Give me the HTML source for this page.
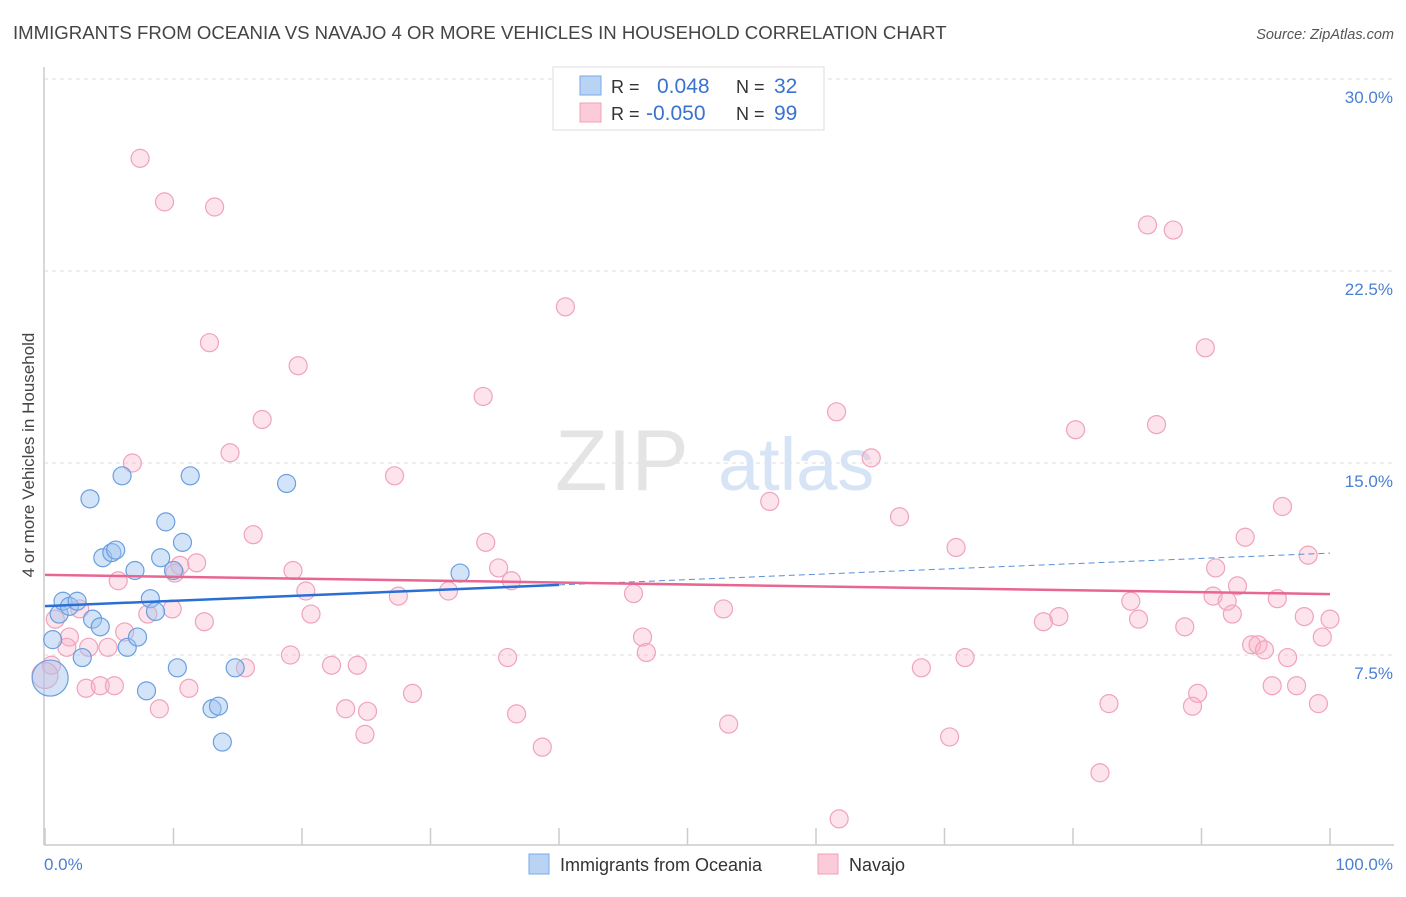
<!DOCTYPE html>
<html><head><meta charset="utf-8"><style>
body{margin:0;background:#fff;font-family:"Liberation Sans",sans-serif}
svg text{font-family:"Liberation Sans",sans-serif}
</style></head><body>
<svg id="chart" width="1406" height="892" xmlns="http://www.w3.org/2000/svg">
<text x="13" y="39" font-size="18.6" fill="#444">IMMIGRANTS FROM OCEANIA VS NAVAJO 4 OR MORE VEHICLES IN HOUSEHOLD CORRELATION CHART</text>
<text x="1394" y="39" font-size="14.5" fill="#555" text-anchor="end" font-style="italic">Source: ZipAtlas.com</text>
<g id="grid"></g>
<g>
<text x="555" y="490" font-size="86" fill="#e4e4e4" font-family="Liberation Serif,serif">ZIP</text>
<text x="718" y="490" font-size="74" fill="#d6e4f5">atlas</text>
</g>
<line x1="44" y1="67" x2="44" y2="845" stroke="#ccc" stroke-width="1.5"/>
<line x1="44" y1="845" x2="1394" y2="845" stroke="#ccc" stroke-width="1.5"/>
<g id="ticks"></g>
<g id="pts"></g>
<g id="trends"></g>
<text transform="translate(34,455) rotate(-90)" font-size="17" fill="#444" text-anchor="middle">4 or more Vehicles in Household</text>
<text x="44" y="870" font-size="17" fill="#4a7fd4">0.0%</text>
<text x="1393" y="870" font-size="17" fill="#4a7fd4" text-anchor="end">100.0%</text>
<g>
<rect x="553" y="67" width="271" height="63" fill="#fff" stroke="#ddd"/>
<rect x="580" y="76" width="21" height="19" fill="#b9d3f5" stroke="#7aa8e6"/>
<rect x="580" y="103" width="21" height="19" fill="#fccbd9" stroke="#f0a0b8"/>
<text x="611" y="93" font-size="18" fill="#333">R = </text>
<text x="657" y="93" font-size="21" fill="#3a72cf">0.048</text>
<text x="736" y="93" font-size="18" fill="#333">N = </text>
<text x="774" y="93" font-size="21" fill="#3a72cf">32</text>
<text x="611" y="120" font-size="18" fill="#333">R = </text>
<text x="646" y="120" font-size="21" fill="#3a72cf">-0.050</text>
<text x="736" y="120" font-size="18" fill="#333">N = </text>
<text x="774" y="120" font-size="21" fill="#3a72cf">99</text>
</g>
<g>
<rect x="529" y="854" width="20" height="20" fill="#b9d3f5" stroke="#7aa8e6"/>
<text x="560" y="871" font-size="18" fill="#333">Immigrants from Oceania</text>
<rect x="818" y="854" width="20" height="20" fill="#fccbd9" stroke="#f0a0b8"/>
<text x="849" y="871" font-size="18" fill="#333">Navajo</text>
</g>
</svg>
<script>
const yTicks=[7.5,15,22.5,30];
const yTickLabels=["7.5%","15.0%","22.5%","30.0%"];
const xTicks=[0,10,20,30,40,50,60,70,80,90,100];
const blueX=[0.4,0.6,1.1,1.4,1.9,2.5,3.5,3.7,4.3,4.5,5.2,5.5,6.0,6.4,7.0,7.2,7.9,8.2,8.6,9.0,9.4,10.0,10.3,10.7,11.3,13.0,13.5,13.8,14.8,18.8,32.3,2.9];
const blueY=[6.6,8.1,9.1,9.6,9.4,9.6,13.6,8.9,8.6,11.3,11.5,11.6,14.5,7.8,10.8,8.2,6.1,9.7,9.2,11.3,12.7,10.8,7.0,11.9,14.5,5.4,5.5,4.1,7.0,14.2,10.7,7.4];
const pinkX=[7.4,9.3,13.2,12.8,19.7,16.9,14.4,6.8,27.2,16.2,34.1,40.5,85.8,87.8,90.3,61.6,80.2,86.5,64.3,56.4,66.5,70.9,96.3,93.4,98.3,34.3,35.3,36.3,10.5,11.8,10.1,5.7,19.3,20.3,27.5,31.4,45.8,91.1,92.8,90.9,92.0,95.9,84.5,98.0,100,85.1,78.9,77.7,92.4,88.7,52.8,20.7,9.9,8.0,2.7,0.8,1.9,6.2,3.4,4.9,1.7,0.5,0,46.5,46.8,93.9,94.4,94.9,96.7,99.4,12.4,19.1,22.3,24.3,15.6,36.0,68.2,71.6,3.2,4.3,5.4,11.2,8.9,23.4,25.1,28.6,36.7,53.2,70.4,24.9,38.7,82.8,89.7,89.3,95.5,97.4,99.1,82.1,61.8];
const pinkY=[26.9,25.2,25.0,19.7,18.8,16.7,15.4,15.0,14.5,12.2,17.6,21.1,24.3,24.1,19.5,17.0,16.3,16.5,15.2,13.5,12.9,11.7,13.3,12.1,11.4,11.9,10.9,10.4,11.0,11.1,10.7,10.4,10.8,10.0,9.8,10.0,9.9,10.9,10.2,9.8,9.6,9.7,9.6,9.0,8.9,8.9,9.0,8.8,9.1,8.6,9.3,9.1,9.3,9.1,9.3,8.9,8.2,8.4,7.8,7.8,7.8,7.1,6.7,8.2,7.6,7.9,7.9,7.7,7.4,8.2,8.8,7.5,7.1,7.1,7.0,7.4,7.0,7.4,6.2,6.3,6.3,6.2,5.4,5.4,5.3,6.0,5.2,4.8,4.3,4.4,3.9,5.6,6.0,5.5,6.3,6.3,5.6,2.9,1.1];
const blueTrend=[9.41,11.48];
const pinkTrend=[10.63,9.88];
const blueSolidEnd=40;
const NS="http://www.w3.org/2000/svg";
const sx=v=>45+v*12.85, sy=v=>847-v*25.6;
function mk(t,a,p){const e=document.createElementNS(NS,t);for(const k in a)e.setAttribute(k,a[k]);p.appendChild(e);return e;}
const grid=document.getElementById('grid');
yTicks.forEach((t,i)=>{
 const l=mk('line',{x1:44,x2:1394,y1:sy(t),y2:sy(t),stroke:'#ddd','stroke-dasharray':'4,4'},grid);
 
 
 const tx=mk('text',{x:1393,y:sy(t)+24,'font-size':17,fill:'#4a7fd4','text-anchor':'end'},grid);
 tx.textContent=yTickLabels[i];
 
 
});
const ticks=document.getElementById('ticks');
xTicks.forEach(t=>{
 const l=mk('line',{x1:sx(t),x2:sx(t),y1:828,y2:845,stroke:'#ccc','stroke-width':1.5},ticks);
 
 
});
const pts=document.getElementById('pts');
pinkX.forEach((x,i)=>{
 const c=mk('circle',{cx:sx(x),cy:sy(pinkY[i]),r:(x===0?13:9),fill:'rgba(248,175,198,0.35)',stroke:'#f0a3bb','stroke-width':1.2},pts);
 
 
});
blueX.forEach((x,i)=>{
 const c=mk('circle',{cx:sx(x),cy:sy(blueY[i]),r:(i===0?18:9),fill:'rgba(160,196,240,0.45)',stroke:'#6a9fe0','stroke-width':1.2},pts);
 
 
});
const tr=document.getElementById('trends');
const by=x=>blueTrend[0]+(blueTrend[1]-blueTrend[0])*x/100;
let l1=mk('line',{x1:sx(0),y1:sy(by(0)),x2:sx(blueSolidEnd),y2:sy(by(blueSolidEnd)),stroke:'#2a6fd6','stroke-width':2.5},tr);


let l2=mk('line',{x1:sx(blueSolidEnd),y1:sy(by(blueSolidEnd)),x2:sx(100),y2:sy(by(100)),stroke:'#5a8ed8','stroke-width':1,'stroke-dasharray':'6,4'},tr);


let l3=mk('line',{x1:sx(0),y1:sy(pinkTrend[0]),x2:sx(100),y2:sy(pinkTrend[1]),stroke:'#e8668f','stroke-width':2.5},tr);


</script>
</body></html>
